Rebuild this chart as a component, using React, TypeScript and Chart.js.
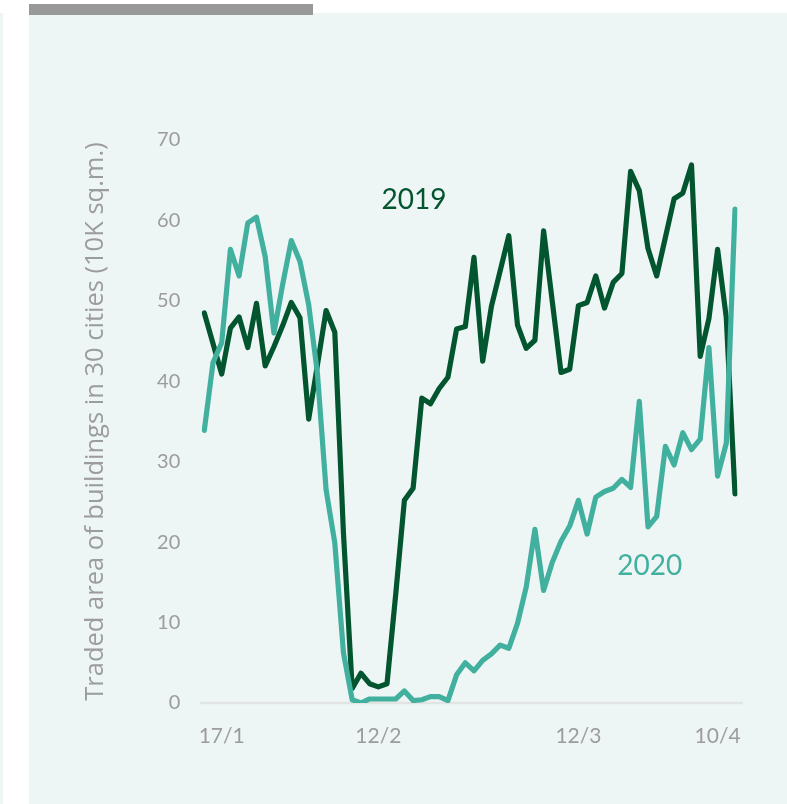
import React, { useEffect, useRef } from "react";
import { Chart, registerables } from "chart.js";

Chart.register(...registerables);

const series2019 = [
  48.5, 44.7, 40.9, 46.6, 48.0, 44.2, 49.7, 41.9, 44.3, 46.9,
  49.8, 47.9, 35.3, 42.0, 48.8, 46.1, 21.0, 1.8, 3.7, 2.4,
  2.0, 2.4, 13.5, 25.2, 26.7, 37.9, 37.2, 39.1, 40.5, 46.5,
  46.8, 55.4, 42.5, 49.3, 53.7, 58.1, 47.0, 44.1, 45.1, 58.7,
  49.9, 41.1, 41.5, 49.4, 49.8, 53.1, 49.1, 52.3, 53.4, 66.1,
  63.7, 56.5, 53.1, 57.9, 62.7, 63.4, 66.9, 43.1, 47.8, 56.4,
  47.9, 26.0,
];

const series2020 = [
  33.9, 42.3, 44.8, 56.4, 53.1, 59.7, 60.4, 55.5, 46.0, 52.0,
  57.5, 54.9, 49.5, 41.0, 26.5, 19.9, 6.2, 0.4, 0.0, 0.5,
  0.5, 0.5, 0.5, 1.5, 0.3, 0.4, 0.8, 0.8, 0.3, 3.5,
  5.0, 4.0, 5.3, 6.1, 7.2, 6.8, 9.9, 14.4, 21.6, 14.0,
  17.5, 20.1, 22.0, 25.2, 21.0, 25.6, 26.3, 26.7, 27.8, 26.8,
  37.5, 21.9, 23.2, 31.9, 29.6, 33.6, 31.5, 32.8, 44.2, 28.2,
  32.3, 61.4,
];

const tickPositions = [2, 20, 43, 59];
const tickLabels = ["17/1", "12/2", "12/3", "10/4"];

const yTitle = "Traded area of buildings in 30 cities (10K sq.m.)";
const seriesNames = ["2019", "2020"];

const labels = series2019.map((_, i) => {
  const k = tickPositions.indexOf(i);
  return k >= 0 ? tickLabels[k] : "";
});

const DARK = "#03552f";
const TEAL = "#42b09f";
const GRAY = "#9c9c9c";
const FONT = "Lato, 'Open Sans', sans-serif";
const TITLE_FONT = "'Open Sans', Lato, sans-serif";

export default function App() {
  const ref = useRef<HTMLCanvasElement | null>(null);

  useEffect(() => {
    if (!ref.current) return;

    const baseline = {
      id: "baseline",
      beforeDatasetsDraw(chart: any) {
        const { ctx, chartArea, scales } = chart;
        const y = scales.y.getPixelForValue(0);
        ctx.save();
        ctx.strokeStyle = "#e2e4e4";
        ctx.lineWidth = 2.5;
        ctx.beginPath();
        ctx.moveTo(chartArea.left - 4, y);
        ctx.lineTo(chartArea.right + 8, y);
        ctx.stroke();
        ctx.restore();
      },
    };

    const seriesLabels = {
      id: "seriesLabels",
      afterDatasetsDraw(chart: any) {
        const { ctx, scales } = chart;
        ctx.save();
        ctx.font = `28px ${FONT}`;
        ctx.textAlign = "center";
        ctx.textBaseline = "middle";
        ctx.fillStyle = DARK;
        ctx.fillText(seriesNames[0], scales.x.getPixelForValue(24.1), scales.y.getPixelForValue(62.6));
        ctx.fillStyle = TEAL;
        ctx.fillText(seriesNames[1], scales.x.getPixelForValue(51.2), scales.y.getPixelForValue(17.0));
        ctx.restore();
      },
    };

    const chart = new Chart(ref.current, {
      type: "line",
      data: {
        labels,
        datasets: [
          {
            label: seriesNames[1],
            data: series2020,
            borderColor: TEAL,
            borderWidth: 5.2,
            pointRadius: 0,
            tension: 0,
            borderJoinStyle: "round",
            borderCapStyle: "round",
          },
          {
            label: seriesNames[0],
            data: series2019,
            borderColor: DARK,
            borderWidth: 5.2,
            pointRadius: 0,
            tension: 0,
            borderJoinStyle: "round",
            borderCapStyle: "round",
          },
        ],
      },
      options: {
        responsive: false,
        animation: false,
        layout: { padding: { left: 0, right: 52, top: 140, bottom: 0 } },
        plugins: { legend: { display: false }, tooltip: { enabled: false } },
        scales: {
          x: {
            type: "category",
            offset: false,
            grid: { display: false, drawTicks: false },
            border: { display: false },
            ticks: {
              autoSkip: false,
              maxRotation: 0,
              minRotation: 0,
              padding: 21,
              color: GRAY,
              font: { family: FONT, size: 21 },
            },
            afterFit(scale: any) {
              scale.height = 101;
            },
          },
          y: {
            min: 0,
            max: 70,
            grid: { display: false, drawTicks: false },
            border: { display: false },
            ticks: {
              stepSize: 10,
              padding: 24,
              color: GRAY,
              font: { family: FONT, size: 20 },
            },
            title: {
              display: true,
              text: yTitle,
              color: GRAY,
              font: { family: TITLE_FONT, size: 25.5 },
              padding: { top: 80.5, bottom: 0 },
            },
            afterFit(scale: any) {
              scale.width = 204.3;
            },
          },
        },
      },
      plugins: [baseline, seriesLabels],
    });

    return () => chart.destroy();
  }, []);

  return (
    <div style={{ position: "absolute", left: 0, top: 0, width: 787, height: 804, background: "#ffffff", overflow: "hidden" }}>
      <div style={{ position: "absolute", left: 0, top: 13, width: 3, height: 791, background: "#edf6f4" }} />
      <div style={{ position: "absolute", left: 29, top: 13, width: 758, height: 791, background: "#edf6f4" }} />
      <div style={{ position: "absolute", left: 29, top: 4, width: 284, height: 11, background: "#999999" }} />
      <canvas ref={ref} width={787} height={804} style={{ position: "absolute", left: 0, top: 0 }} />
    </div>
  );
}
